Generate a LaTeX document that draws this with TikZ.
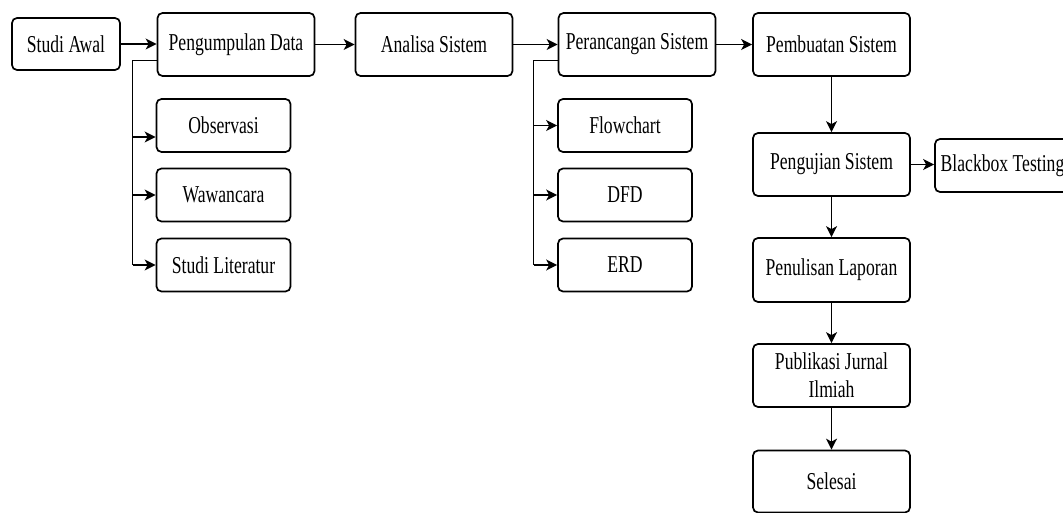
\documentclass[tikz,border=0pt]{standalone}
\usepackage{fontspec}
\usepackage{graphicx}
\setmainfont{Liberation Serif}
\newcommand\Tx[1]{\scalebox{0.75}[1.03]{#1}}
\usetikzlibrary{arrows.meta,calc}
\begin{document}
\begin{tikzpicture}[x=1pt,y=-1pt,
  box/.style={draw=black, line width=1.7pt, rounded corners=5pt, fill=white,
    inner sep=0pt, align=center, font={\fontsize{23.5}{28}\selectfont}},
  mainbox/.style={box, minimum width=157pt, minimum height=63pt},
  subbox/.style={box, minimum width=134pt, minimum height=53pt},
  arr/.style={line width=1.5pt, -{Stealth[length=11pt,width=11pt,inset=3pt]}},
  ln/.style={line width=1.5pt}]
\fill[white] (0,0) rectangle (1063,513);
\useasboundingbox (0,0) rectangle (1063,513);
% top row
\node[box, minimum width=108pt, minimum height=52pt] (awal) at (66,44) {\Tx{Studi Awal}};
\node[mainbox] (kumpul) at (236,44.5) {\Tx{Pengumpulan Data}};
\node[mainbox] (analisa) at (434,44.5) {\Tx{Analisa Sistem}};
\node[mainbox] (rancang) at (637,44.5) {\Tx{Perancangan Sistem}};
\node[mainbox] (buat) at (831.5,44.5) {\Tx{Pembuatan Sistem}};
% sub boxes left
\node[subbox] (obs) at (223.5,125.5) {\Tx{Observasi}};
\node[subbox] (waw) at (223.5,195) {\Tx{Wawancara}};
\node[subbox] (lit) at (223.5,265) {\Tx{Studi Literatur}};
% sub boxes middle
\node[subbox] (flow) at (625,125.5) {\Tx{Flowchart}};
\node[subbox] (dfd) at (625,195) {\Tx{DFD}};
\node[subbox] (erd) at (625,265) {\Tx{ERD}};
% right column
\node[mainbox] (uji) at (831.5,164.5) {\Tx{Pengujian Sistem}};
\node[subbox, minimum width=135pt] (bb) at (1002.5,165.5) {\Tx{Blackbox Testing}};
\node[mainbox, minimum height=64pt] (tulis) at (831.5,270) {\Tx{Penulisan Laporan}};
\node[mainbox] (pub) at (831.5,375.5) {\Tx{Publikasi Jurnal}\\\Tx{Ilmiah}};
\node[mainbox, minimum height=62pt] (selesai) at (831.5,481.5) {\Tx{Selesai}};
% main flow
\draw[arr] (awal.east) -- (awal.east -| kumpul.west);
\draw[arr] (kumpul.east) -- (analisa.west);
\draw[arr] (analisa.east) -- (rancang.west);
\draw[arr] (rancang.east) -- (buat.west);
\draw[arr] (buat.south) -- (uji.north);
\draw[arr] (uji.east) -- (uji.east -| bb.west);
\draw[arr] (uji.south) -- (tulis.north);
\draw[arr] (tulis.south) -- (pub.north);
\draw[arr] (pub.south) -- (selesai.north);
% branch from Pengumpulan Data
\coordinate (k0) at ($(kumpul.south west)!0.25!(kumpul.north west)$);
\coordinate (kt) at ($(k0)+(-24,0)$);
\draw[ln] (k0) -- (kt) -- (kt |- lit.west);
\draw[arr] ([yshift=-11.5pt]obs.west -| kt) -- ([yshift=-11.5pt]obs.west);
\draw[arr] (waw.west -| kt) -- (waw.west);
\draw[arr] (lit.west -| kt) -- (lit.west);
% branch from Perancangan Sistem
\coordinate (r0) at ($(rancang.south west)!0.25!(rancang.north west)$);
\coordinate (rt) at ($(r0)+(-24,0)$);
\draw[ln] (r0) -- (rt) -- (rt |- erd.west);
\draw[arr] (flow.west -| rt) -- (flow.west);
\draw[arr] (dfd.west -| rt) -- (dfd.west);
\draw[arr] (erd.west -| rt) -- (erd.west);
\end{tikzpicture}
\end{document}
